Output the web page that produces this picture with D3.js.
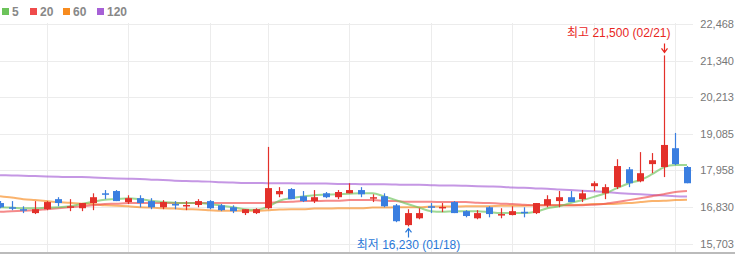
<!DOCTYPE html>
<html>
<head>
<meta charset="utf-8">
<script src="https://cdn.jsdelivr.net/npm/d3@7"></script>
<style>
  body { margin: 0; background: #fff; }
  svg { display: block; font-family: "Liberation Sans", Arial, "Noto Sans CJK KR", sans-serif; }
</style>
</head>
<body>
<div id="chart"></div>
<script>
// daily candles (oldest -> newest)
const opens  = [16950,16820,16760,16640,16760,17070,16820,16790,16950,17250,
                17320,16980,17100,17010,16820,16920,16860,16890,17010,16880,
                16820,16640,16640,16790,17220,17380,17160,17010,17250,17130,
                17250,17350,17100,17160,16880,16270,16480,16850,16800,16980,
                16700,16480,16820,16580,16580,16680,16640,16880,17010,17130,
                17070,17470,17250,17440,17990,17620,18150,18060,18640,18060];
const highs  = [17010,17010,16850,17010,17010,17130,17070,16950,17250,17350,
                17350,17190,17190,17100,17040,17010,17010,17070,17040,16920,
                16880,16760,16790,18680,17440,17410,17320,17350,17290,17350,
                17560,17440,17220,17250,16920,16760,16790,16950,16950,17010,
                16730,16730,16850,16790,16850,16820,16950,17190,17320,17320,
                17350,17620,17530,18300,18060,18520,18490,21500,19110,18090];
const lows   = [16790,16730,16640,16610,16730,16850,16700,16700,16730,17070,
                17010,16920,16820,16760,16760,16760,16730,16820,16760,16700,
                16640,16580,16610,16760,17130,17070,16980,16950,17100,17070,
                17250,17130,16980,16820,16360,16230,16450,16640,16670,16640,
                16510,16450,16510,16480,16570,16510,16610,16820,16820,16980,
                16980,17320,17070,17380,17440,17590,17870,17750,18120,17560];
const closes = [16820,16790,16730,16760,16980,16950,16850,16950,17130,17220,
                17010,17100,16950,16820,16980,16890,16890,17010,16790,16730,
                16700,16760,16760,17410,17320,17070,17010,17130,17130,17290,
                17350,17220,17130,16850,16390,16640,16640,16820,16830,16640,
                16550,16640,16610,16610,16700,16650,16950,17070,17130,16980,
                17250,17560,17440,18090,17560,17870,18270,18740,18150,17560];

// moving averages as shown
const ma5   = [16820,16810,16790,16790,16810,16820,16850,16920,16990,17050,
               17070,17100,17070,17020,16980,16960,16950,16950,16920,16870,
               16820,16760,16740,16840,17020,17100,17150,17190,17210,17220,
               17240,17250,17250,17150,17040,16920,16810,16700,16680,16700,
               16700,16700,16670,16640,16640,16640,16680,16790,16850,16950,
               17040,17140,17250,17410,17560,17660,17840,18050,18120,18120];
const ma20  = [16680,16700,16710,16730,16760,16790,16820,16850,16880,16920,
               16930,16950,16950,16950,16950,16950,16950,16950,16950,16950,
               16950,16950,16950,16960,16980,16990,17010,17010,17020,17020,
               17040,17040,17040,17020,17010,16990,16990,16990,16980,16980,
               16980,16960,16950,16930,16920,16900,16880,16880,16880,16880,
               16880,16900,16930,16980,17040,17100,17160,17220,17290,17320];
const ma60  = [17160,17120,17070,17040,17010,16980,16960,16930,16920,16880,
               16870,16850,16820,16810,16790,16780,16760,16750,16730,16710,
               16710,16710,16710,16730,16750,16760,16760,16780,16780,16790,
               16790,16790,16810,16810,16820,16820,16820,16840,16840,16840,
               16850,16850,16850,16870,16870,16870,16880,16880,16880,16880,
               16900,16920,16920,16930,16950,16980,17010,17020,17040,17050];
const ma120 = [17810,17800,17790,17780,17770,17760,17750,17750,17735,17720,
               17710,17700,17690,17670,17660,17640,17630,17620,17610,17590,
               17580,17570,17570,17560,17560,17560,17550,17550,17550,17540,
               17540,17530,17530,17530,17520,17510,17510,17500,17490,17490,
               17480,17470,17460,17450,17430,17420,17400,17390,17370,17350,
               17330,17310,17290,17260,17240,17220,17200,17180,17160,17150];

const maNames  = ["5", "20", "60", "120"];
const yTicks   = [15703, 16830, 17958, 19085, 20213, 21340, 22468];
const gridIdx  = [4, 11, 18, 23, 30, 37, 44, 51, 58];   // vertical grid lines at these candles
const highDate = "02/21";
const lowDate  = "01/18";

const svgWidth = 735, svgHeight = 259;
const plotRight = 693, plotTop = 23, plotBottom = 252;
const UP = "#e3302a", DOWN = "#3a7ee0";
const maColors = ["#6cc35a", "#ef4b4b", "#f78b1e", "#a660d6"];

const svg = d3.select("#chart").append("svg")
  .attr("width", svgWidth)
  .attr("height", svgHeight);

const x = d3.scaleLinear().domain([0, opens.length - 1]).range([0, 687]);
const y = d3.scaleLinear().domain([15703, 22468]).range([243.5, 24]);

svg.append("defs").append("clipPath").attr("id", "plotClip")
  .append("rect").attr("x", 0).attr("y", 0).attr("width", plotRight).attr("height", plotBottom);

// grid
const grid = svg.append("g");
grid.selectAll("line.h").data(yTicks).join("line")
  .attr("x1", 0).attr("x2", plotRight)
  .attr("y1", d => Math.round(y(d)) + 0.5).attr("y2", d => Math.round(y(d)) + 0.5)
  .attr("stroke", "#ececec");
grid.selectAll("line.v").data(gridIdx).join("line")
  .attr("x1", d => Math.round(x(d)) + 0.5).attr("x2", d => Math.round(x(d)) + 0.5)
  .attr("y1", plotTop).attr("y2", plotBottom)
  .attr("stroke", "#ececec");

// y axis on the right
const yAxisG = svg.append("g")
  .attr("transform", `translate(${svgWidth - 1},0)`)
  .call(d3.axisLeft(y).tickValues(yTicks).tickSize(0).tickPadding(0).tickFormat(d3.format(",")));
yAxisG.select(".domain").remove();
yAxisG.selectAll("text")
  .style("font-size", "11px")
  .attr("fill", "#777");

// bottom line
svg.append("line")
  .attr("x1", 0).attr("x2", svgWidth)
  .attr("y1", 253).attr("y2", 253)
  .attr("stroke", "#bbb").attr("stroke-width", 2);

const plot = svg.append("g").attr("clip-path", "url(#plotClip)");

// moving averages
const line = d3.line()
  .x((d, i) => x(i))
  .y(d => y(d))
  .curve(d3.curveMonotoneX);
[ma120, ma60, ma20, ma5].forEach((s, k) => {
  plot.append("path")
    .datum(s)
    .attr("fill", "none")
    .attr("stroke", maColors[3 - k])
    .attr("stroke-opacity", 0.65)
    .attr("stroke-width", 2)
    .attr("d", line);
});

// candles
const candles = d3.range(opens.length).map(i => ({
  i, o: opens[i], h: highs[i], l: lows[i], c: closes[i]
}));
const cg = plot.selectAll("g.candle").data(candles).join("g");
cg.append("line")
  .attr("x1", d => Math.round(x(d.i)) + 0.5).attr("x2", d => Math.round(x(d.i)) + 0.5)
  .attr("y1", d => y(d.h)).attr("y2", d => y(d.l))
  .attr("stroke", d => d.c >= d.o ? UP : DOWN)
  .attr("stroke-width", 1.2);
cg.append("rect")
  .attr("x", d => Math.round(x(d.i)) - 3)
  .attr("width", 7)
  .attr("y", d => y(Math.max(d.o, d.c)))
  .attr("height", d => Math.max(1.5, y(Math.min(d.o, d.c)) - y(Math.max(d.o, d.c))))
  .attr("fill", d => d.c >= d.o ? UP : DOWN);

// high / low notes
const hiIdx = d3.maxIndex(highs), loIdx = d3.minIndex(lows);
const hx = Math.round(x(hiIdx)) + 0.5, lx = Math.round(x(loIdx)) + 0.5;
svg.append("path")
  .attr("d", `M${hx},${y(highs[hiIdx]) - 12}V${y(highs[hiIdx]) - 3}M${hx - 3},${y(highs[hiIdx]) - 7}L${hx},${y(highs[hiIdx]) - 3}L${hx + 3},${y(highs[hiIdx]) - 7}`)
  .attr("fill", "none").attr("stroke", "#e8261e").attr("stroke-width", 1.2);
svg.append("text")
  .attr("x", hx + 6).attr("y", y(highs[hiIdx]) - 18)
  .attr("text-anchor", "end")
  .style("font-size", "12px")
  .attr("fill", "#e8261e")
  .text(`최고 ${d3.format(",")(highs[hiIdx])} (${highDate})`);

svg.append("path")
  .attr("d", `M${lx},${y(lows[loIdx]) + 11}V${y(lows[loIdx]) + 2}M${lx - 3},${y(lows[loIdx]) + 6}L${lx},${y(lows[loIdx]) + 2}L${lx + 3},${y(lows[loIdx]) + 6}`)
  .attr("fill", "none").attr("stroke", "#2a78d8").attr("stroke-width", 1.2);
svg.append("text")
  .attr("x", lx).attr("y", y(lows[loIdx]) + 23)
  .attr("text-anchor", "middle")
  .style("font-size", "12px")
  .attr("fill", "#2a78d8")
  .text(`최저 ${d3.format(",")(lows[loIdx])} (${lowDate})`);

// legend
const legendX = [2, 30, 63, 97];
const legend = svg.append("g");
maNames.forEach((name, k) => {
  legend.append("rect")
    .attr("x", legendX[k]).attr("y", 8)
    .attr("width", 7).attr("height", 7)
    .attr("fill", maColors[k]);
  legend.append("text")
    .attr("x", legendX[k] + 10).attr("y", 16)
    .style("font-size", "12px")
    .style("font-weight", "700")
    .attr("fill", "#888")
    .text(name);
});
</script>
</body>
</html>
